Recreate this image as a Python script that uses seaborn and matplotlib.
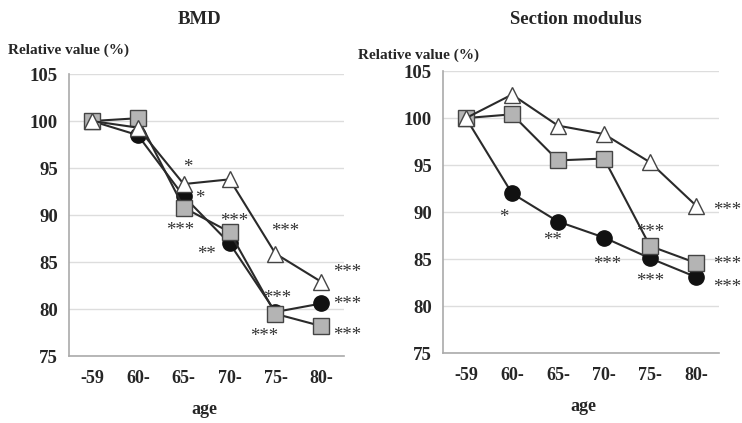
import numpy as np
import pandas as pd
import matplotlib
matplotlib.use("Agg")
import matplotlib.pyplot as plt
import matplotlib.transforms as mtransforms
import seaborn as sns

sns.set_theme(style="white")
plt.rcParams["font.family"] = ["Liberation Serif", "DejaVu Serif"]

age_groups = ["-59", "60-", "65-", "70-", "75-", "80-"]

# BMD, relative to the youngest group (%)
bmd_circle = [100.0, 98.5, 92.0, 87.0, 79.7, 80.6]
bmd_square = [100.0, 100.3, 90.8, 88.2, 79.5, 78.2]
bmd_triangle = [100.0, 99.3, 93.3, 93.8, 85.9, 82.9]

# Section modulus, relative to the youngest group (%)
sm_circle = [100.0, 92.0, 89.0, 87.3, 85.1, 83.1]
sm_square = [100.0, 100.4, 95.5, 95.7, 86.4, 84.6]
sm_triangle = [100.0, 102.5, 99.2, 98.3, 95.3, 90.7]

# significance marks: (group position, y, text)
bmd_marks = [
    (2.09, 95.6, "*"), (2.35, 92.3, "*"), (1.93, 88.9, "***"),
    (3.11, 89.8, "***"), (2.50, 86.3, "**"), (4.20, 88.8, "***"),
    (4.04, 81.7, "***"), (3.76, 77.6, "***"), (5.57, 84.4, "***"),
    (5.57, 81.0, "***"), (5.57, 77.7, "***"),
]
sm_marks = [
    (0.83, 89.9, "*"), (1.87, 87.5, "**"), (3.07, 84.9, "***"),
    (4.00, 88.4, "***"), (4.00, 83.1, "***"), (5.67, 90.7, "***"),
    (5.67, 84.9, "***"), (5.67, 82.5, "***"),
]

series_style = {
    "circle": dict(marker="o", markerfacecolor="#111111", markeredgecolor="#111111"),
    "square": dict(marker="s", markerfacecolor="#b4b4b4", markeredgecolor="#444444"),
    "triangle": dict(marker="^", markerfacecolor="white", markeredgecolor="#444444"),
}

fig = plt.figure(figsize=(7.42, 4.23), dpi=100)
ax1 = fig.add_axes([0.093, 0.158, 0.371, 0.667])
ax2 = fig.add_axes([0.597, 0.165, 0.372, 0.667])


def draw_panel(ax, circle, square, triangle, marks, title, title_x,
               ylab_x, ylab_y, age_x, age_y):
    xs = np.arange(len(age_groups))
    for name, vals in [("circle", circle), ("square", square), ("triangle", triangle)]:
        df = pd.DataFrame({"x": xs, "y": vals})
        sns.lineplot(data=df, x="x", y="y", ax=ax, color="#2a2a2a", linewidth=1.5,
                     markersize=11, markeredgewidth=1.0, **series_style[name])
    ax.set_xlim(-0.5, 5.5)
    ax.set_ylim(75, 105)
    yt = [75, 80, 85, 90, 95, 100, 105]
    ax.set_yticks(yt)
    ax.set_yticklabels([str(v) for v in yt], fontsize=13.5, fontweight="bold")
    ax.set_xticks(np.arange(-0.5, 6.0, 1.0))
    ax.set_xticklabels([])
    ax.set_xticks(xs, minor=True)
    ax.set_xticklabels(age_groups, minor=True, fontsize=13, fontweight="bold")
    ax.tick_params(axis="x", which="major", length=5, width=1, color="#aaaaaa", direction="out")
    ax.tick_params(axis="x", which="minor", length=0, pad=10)
    ax.tick_params(axis="y", length=5, width=1, color="#aaaaaa", direction="out", pad=3)
    ax.grid(axis="y", color="#dddddd", linewidth=1.0)
    ax.set_axisbelow(True)
    for s in ["top", "right"]:
        ax.spines[s].set_visible(False)
    for s in ["left", "bottom"]:
        ax.spines[s].set_color("#aaaaaa")
        ax.spines[s].set_linewidth(1.2)
    ax.set_xlabel("")
    ax.set_ylabel("")
    # asterisk glyphs sit high in the em box; nudge them down onto their anchor
    star_tf = mtransforms.offset_copy(ax.transData, fig=fig, x=0, y=-3.5, units="points")
    for mx, my, txt in marks:
        ax.text(mx, my, txt, ha="center", va="center", fontsize=13.5,
                color="#333333", transform=star_tf)
    fig.text(title_x, 1 - 20 / 423, title, ha="center", va="center",
             fontsize=13.5, fontweight="bold")
    fig.text(ylab_x, ylab_y, "Relative value (%)", ha="left", va="center",
             fontsize=11, fontweight="bold")
    fig.text(age_x, age_y, "age", ha="center", va="center",
             fontsize=13, fontweight="bold")


draw_panel(ax1, bmd_circle, bmd_square, bmd_triangle, bmd_marks, "BMD",
           200 / 742, 8 / 742, 1 - 50 / 423, 204 / 742, 1 - 409 / 423)
draw_panel(ax2, sm_circle, sm_square, sm_triangle, sm_marks, "Section modulus",
           576 / 742, 358 / 742, 1 - 55 / 423, 583 / 742, 1 - 406 / 423)

fig.savefig("out.png", dpi=100)
